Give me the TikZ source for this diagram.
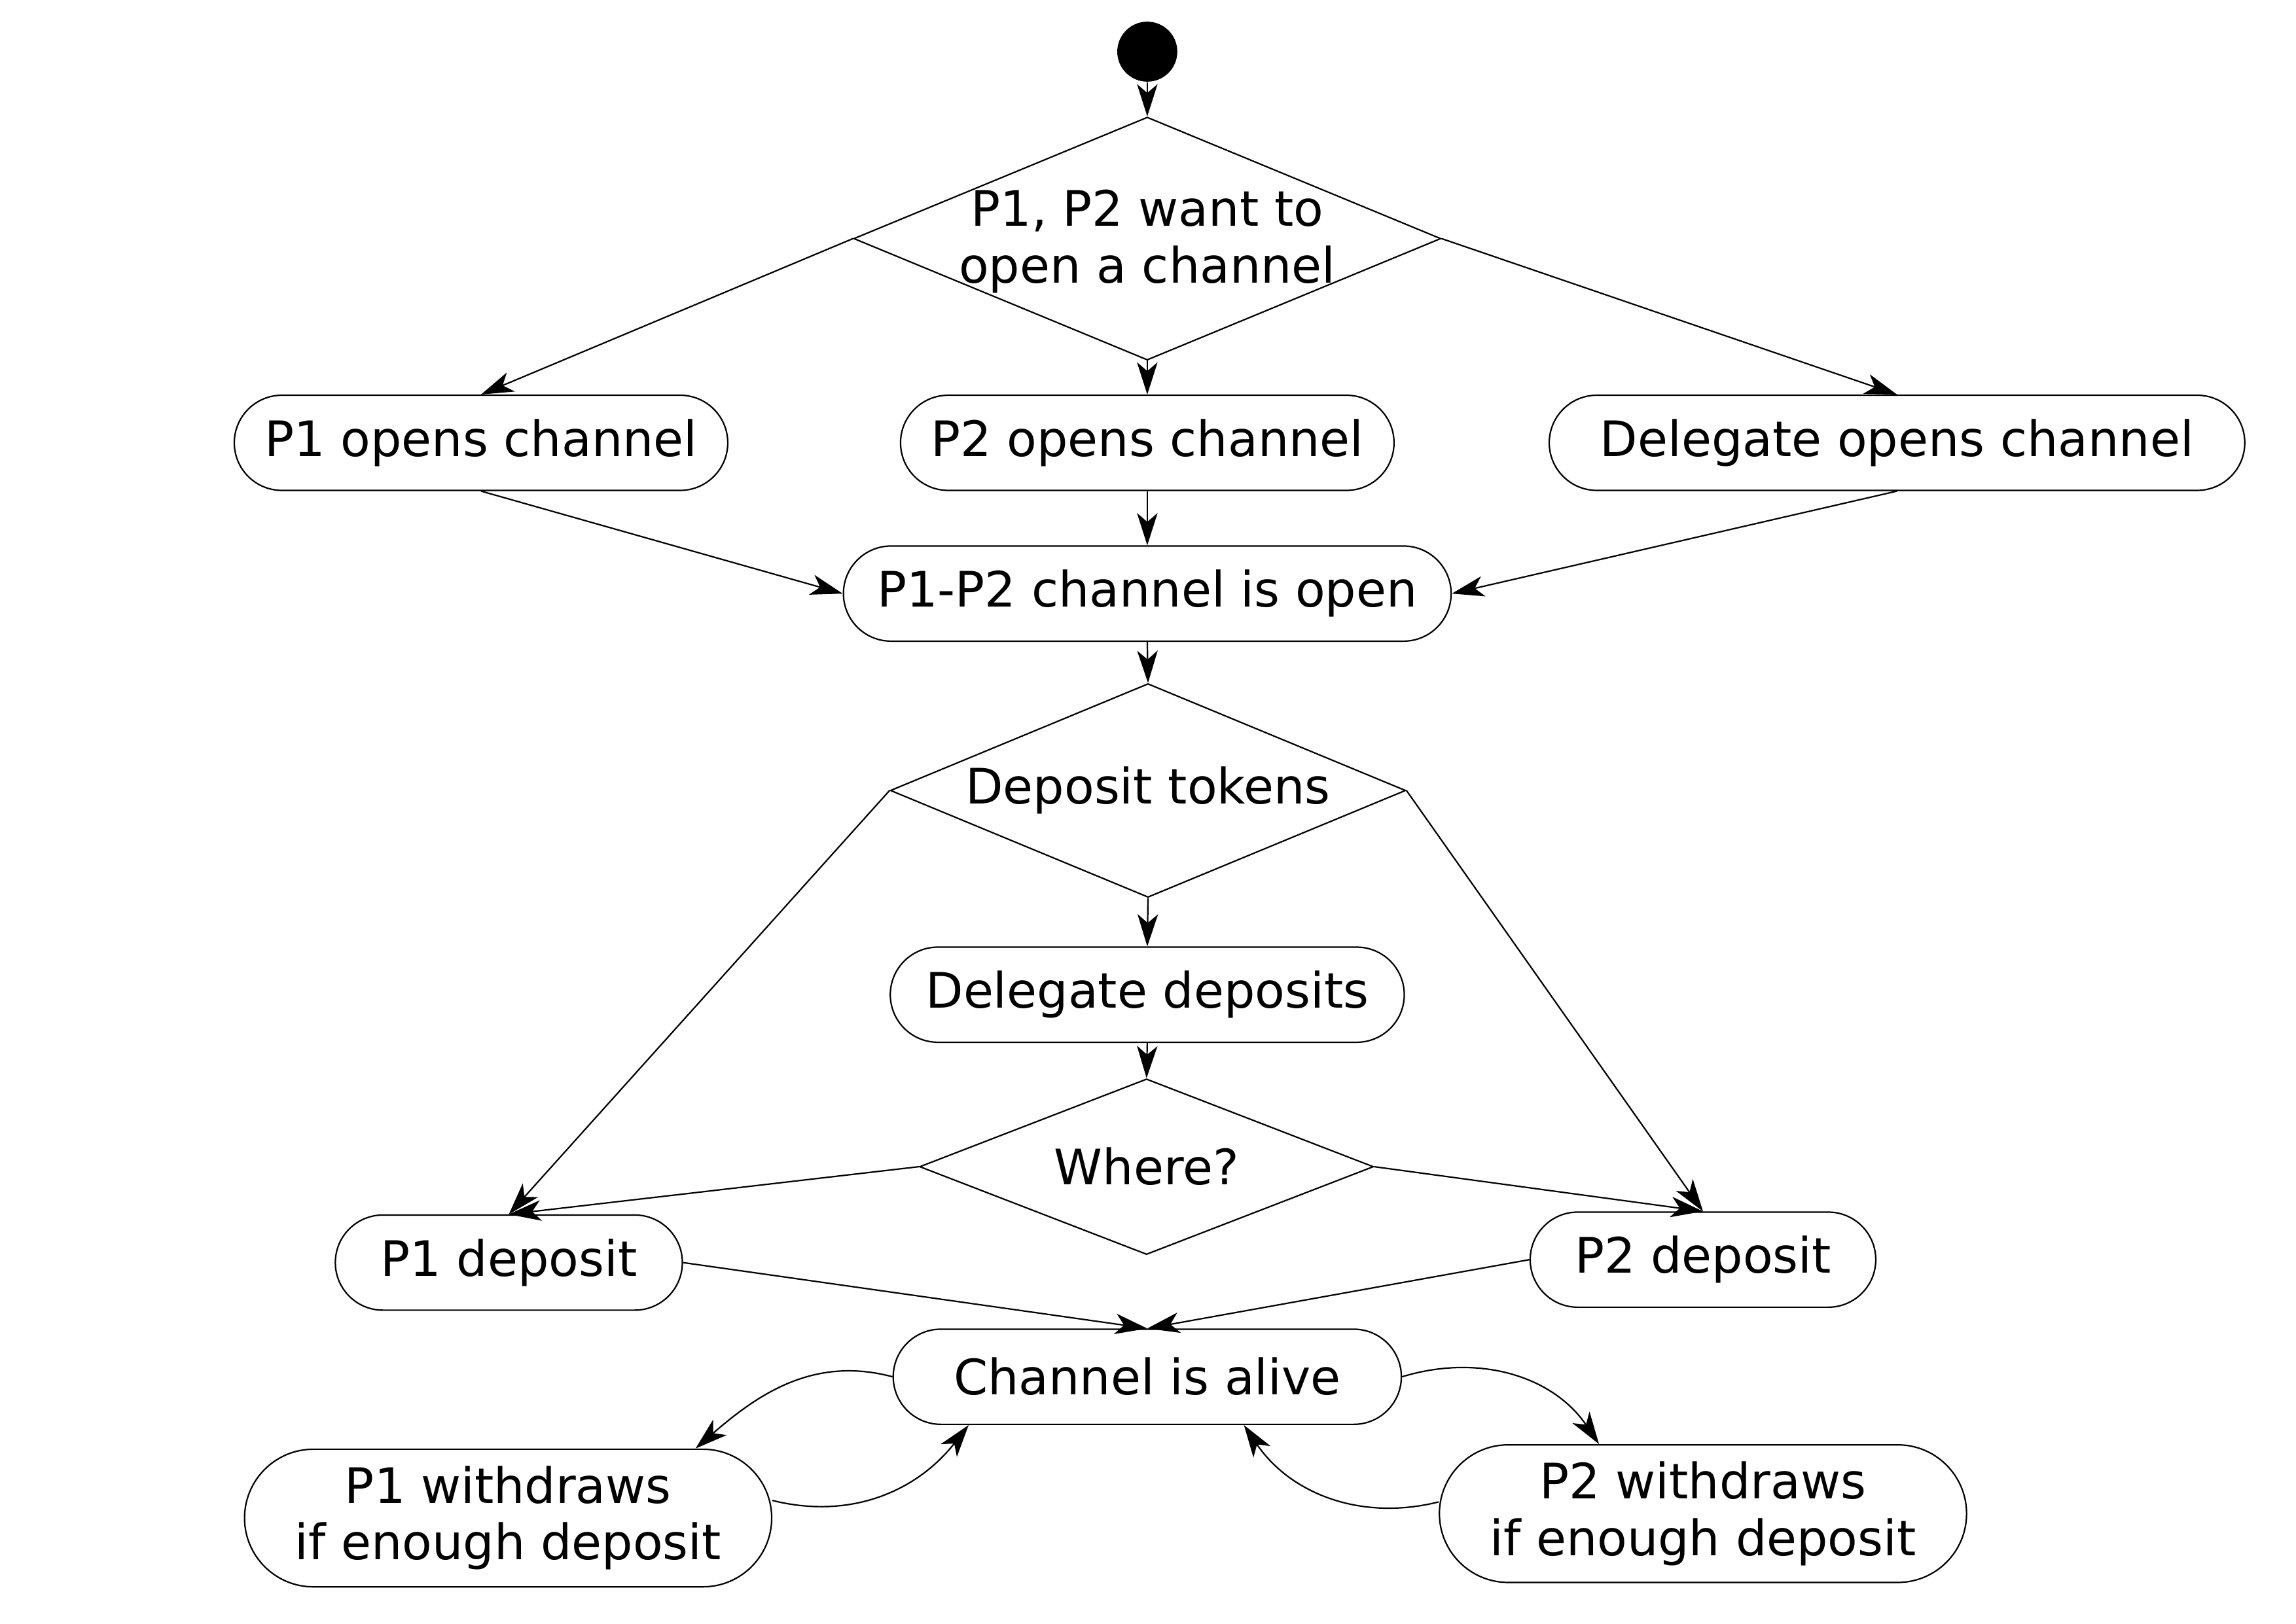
\documentclass[tikz,border=0pt]{standalone}
\usepackage{fontspec}
\setmainfont{DejaVu Sans}
\usetikzlibrary{arrows.meta,shapes.geometric}

\begin{document}
\begin{tikzpicture}[line width=0.28pt,font=\fontsize{9.5}{11}\selectfont,
    >={Stealth[length=0.22cm,width=0.14cm,inset=0.06cm]},
    act/.style={draw,rounded corners=0.325cm,minimum height=0.65cm,inner sep=0pt},
    bigact/.style={act,rounded corners=0.47cm,minimum height=0.94cm,minimum width=3.6cm,align=center},
    choice/.style={draw,diamond,inner sep=0pt},
    flow/.style={->}]

    \useasboundingbox (0,0) rectangle (15.68,-11.09);

    \node[circle,fill,inner sep=0pt,minimum size=0.41cm] (start) at (7.835,-0.353) {};

    \node[choice,minimum width=4.01cm,minimum height=1.66cm,
          label={[align=center,yshift=-0.02cm]center:P1, P2 want to\\open a channel}] (want) at (7.835,-1.63) {};

    \node[act,minimum width=3.37cm] (p1open) at (3.285,-3.025) {P1 opens channel};
    \node[act,minimum width=3.37cm] (p2open) at (7.835,-3.025) {P2 opens channel};
    \node[act,minimum width=4.75cm] (delopen) at (12.955,-3.025) {Delegate opens channel};

    \node[act,minimum width=4.15cm] (open) at (7.835,-4.055) {P1-P2 channel is open};

    \node[choice,minimum width=3.52cm,minimum height=1.46cm,
          label={center:Deposit tokens}] (deposit) at (7.84,-5.40) {};

    \node[act,minimum width=3.51cm] (deldep) at (7.835,-6.795) {Delegate deposits};

    \node[choice,minimum width=3.10cm,minimum height=1.20cm,
          label={center:Where?}] (where) at (7.83,-7.97) {};

    \node[act,minimum width=2.37cm] (p1dep) at (3.475,-8.625) {P1 deposit};
    \node[act,minimum width=2.36cm] (p2dep) at (11.63,-8.605) {P2 deposit};

    \node[act,minimum width=3.47cm] (alive) at (7.835,-9.405) {Channel is alive};

    \node[bigact] (p1draw) at (3.47,-10.37) {P1 withdraws\\if enough deposit};
    \node[bigact] (p2draw) at (11.63,-10.34) {P2 withdraws\\if enough deposit};

    \draw[flow] (start) -- (want.north);

    \draw[flow] (want.west) -- (p1open.north);
    \draw[flow] (want.south) -- (p2open.north);
    \draw[flow] (want.east) -- (delopen.north);

    \draw[flow] (p1open.south) -- (open.west);
    \draw[flow] (p2open.south) -- (open.north);
    \draw[flow] (delopen.south) -- (open.east);

    \draw[flow] (open.south) -- (deposit.north);
    \draw[flow] (deposit.south) -- (deldep.north);
    \draw[flow] (deldep.south) -- (where.north);

    \draw[flow] (deposit.west) -- (p1dep.north);
    \draw[flow] (deposit.east) -- (p2dep.north);
    \draw[flow] (where.west) -- (p1dep.north);
    \draw[flow] (where.east) -- (p2dep.north);

    \draw[flow] (p1dep.east) -- (alive.north);
    \draw[flow] (p2dep.west) -- (alive.north);

    \draw[flow] (alive.west) to[out=165,in=41] ([xshift=1.28cm]p1draw.north);
    \draw[flow] ([yshift=0.12cm]p1draw.east) to[out=-14,in=-128] ([xshift=-1.22cm]alive.south);
    \draw[flow] (alive.east) to[out=17,in=124] ([xshift=-0.71cm]p2draw.north);
    \draw[flow] ([yshift=0.08cm]p2draw.west) to[out=194,in=-56] ([xshift=0.66cm]alive.south);

\end{tikzpicture}
\end{document}
